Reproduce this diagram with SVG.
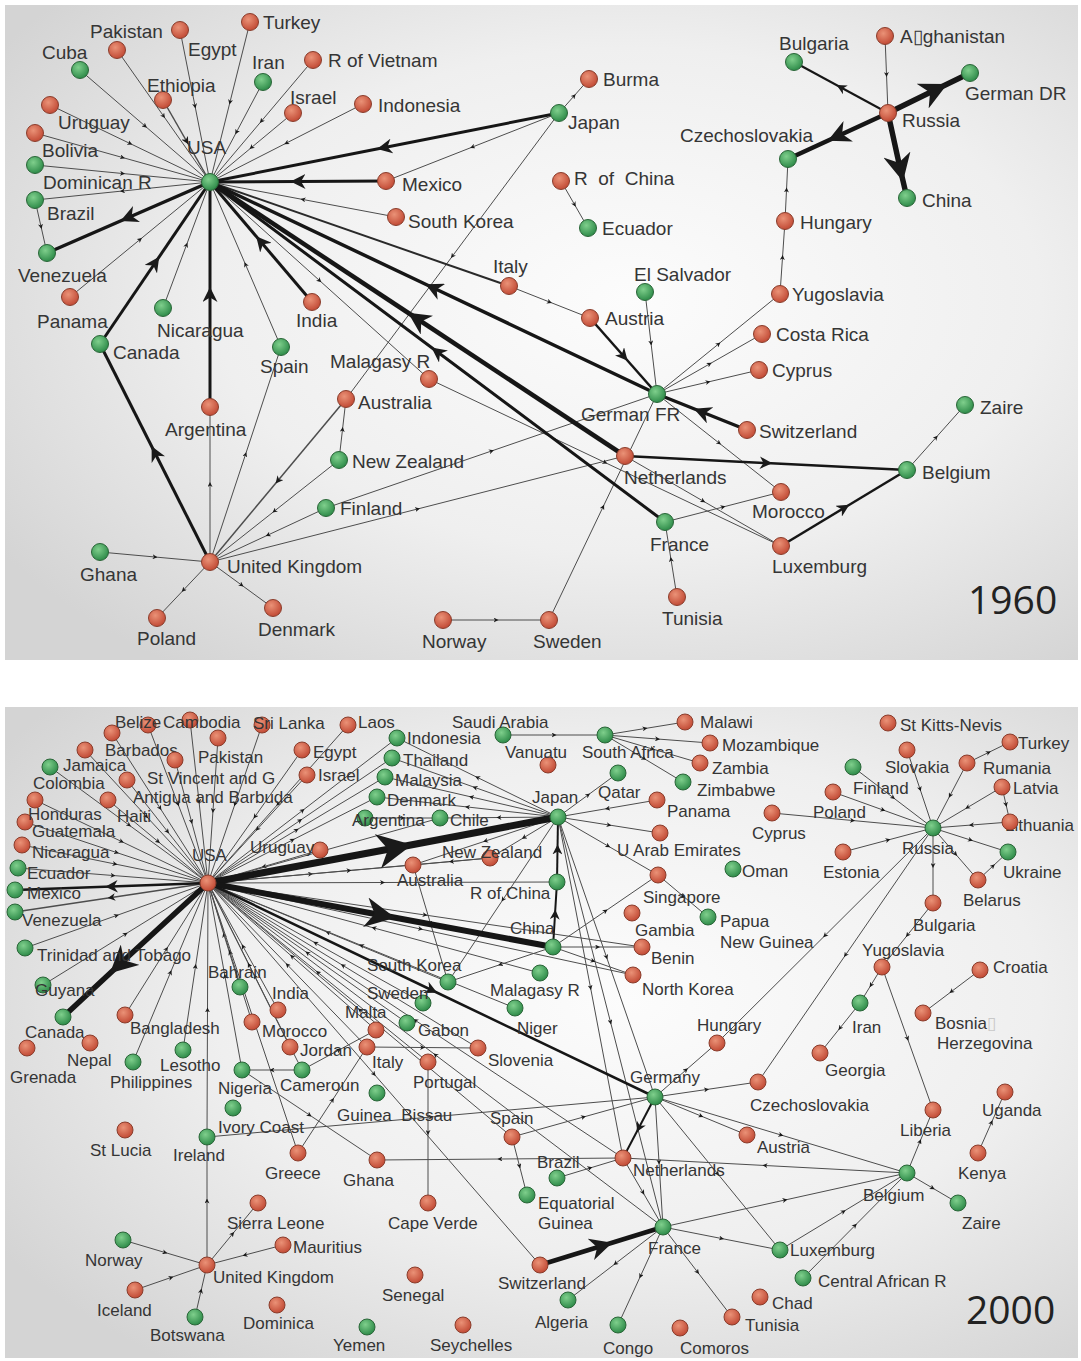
<svg xmlns="http://www.w3.org/2000/svg" width="1081" height="1361" viewBox="0 0 1081 1361">
<defs>
<radialGradient id="bg" cx="0.58" cy="0.45" r="0.7">
<stop offset="0" stop-color="#fcfcfc"/><stop offset="0.55" stop-color="#efefef"/><stop offset="1" stop-color="#d4d4d4"/>
</radialGradient>
<radialGradient id="gr" cx="0.4" cy="0.35" r="0.65">
<stop offset="0" stop-color="#ea9277"/><stop offset="1" stop-color="#c24b36"/>
</radialGradient>
<radialGradient id="gg" cx="0.4" cy="0.35" r="0.65">
<stop offset="0" stop-color="#7fcf8c"/><stop offset="1" stop-color="#2f8c4a"/>
</radialGradient>
<marker id="m" viewBox="0 0 10 10" refX="5" refY="5" markerWidth="5" markerHeight="5" orient="auto">
<path d="M0,0 L10,5 L0,10 L3,5 z" fill="#1a1a1a"/>
</marker>
<style>
.e{fill:none;stroke:#4d4d4d;stroke-width:1;marker-mid:url(#m)}
.k{fill:none;stroke:#161616;marker-mid:url(#m)}
.p{fill:none;stroke:#2a2a2a}
.w15{stroke-width:1.5}.w2{stroke-width:2}.w25{stroke-width:2.5}.w3{stroke-width:3}.w35{stroke-width:3.5}.w45{stroke-width:4.5}.w55{stroke-width:5.5}.w6{stroke-width:6}.w7{stroke-width:7}
.r{fill:url(#gr);stroke:#8a3d2c;stroke-width:1}
.g{fill:url(#gg);stroke:#2a6638;stroke-width:1}
.t{font-family:"Liberation Sans",Arial,sans-serif;font-size:19px;fill:#353535}
.b{font-family:"Liberation Sans",Arial,sans-serif;font-size:17px;fill:#353535}
.y{font-family:"Open Sans","Liberation Sans",sans-serif;font-size:39px;fill:#222}
</style>
</defs>
<rect x="0" y="0" width="1081" height="1361" fill="#ffffff"/>
<rect x="5" y="5" width="1073" height="655" fill="url(#bg)"/>
<rect x="5" y="707" width="1073" height="651" fill="url(#bg)"/>

<g id="connectors-1960">
<path class="e" d="M180 30L195 106L210 182"/>
<path class="e" d="M250 22L230 102L210 182"/>
<path class="e" d="M117 50L163.5 116L210 182"/>
<path class="e" d="M80 70L145 126L210 182"/>
<path class="e" d="M263 82L236.5 132L210 182"/>
<path class="e" d="M313 60L261.5 121L210 182"/>
<path class="e w15" d="M163 100L186.5 141L210 182"/>
<path class="e" d="M293 113L251.5 147.5L210 182"/>
<path class="e" d="M363 104L286.5 143L210 182"/>
<path class="e" d="M50 105L130 143.5L210 182"/>
<path class="e" d="M35 133L122.5 157.5L210 182"/>
<path class="e" d="M35 165L122.5 173.5L210 182"/>
<path class="e" d="M210 182L122.5 191L35 200"/>
<path class="e" d="M35 200L41 226.5L47 253"/>
<path class="e" d="M70 297L140 239.5L210 182"/>
<path class="e" d="M163 308L186.5 245L210 182"/>
<path class="e" d="M281 347L245.5 264.5L210 182"/>
<path class="e" d="M396 217L303 199.5L210 182"/>
<path class="e" d="M559 113L472.5 147L386 181"/>
<path class="e" d="M559 113L574 96L589 79"/>
<path class="e" d="M561 181L574.5 204.5L588 228"/>
<path class="e" d="M559 113L452.5 256L346 399"/>
<path class="e w15" d="M346 399L278 480.5L210 562"/>
<path class="e" d="M339 460L342.5 429.5L346 399"/>
<path class="e" d="M210 562L245.5 454.5L281 347"/>
<path class="e" d="M339 460L274.5 511L210 562"/>
<path class="e" d="M326 508L268 535L210 562"/>
<path class="e" d="M210 562L417.5 509L625 456"/>
<path class="e" d="M326 508L491.5 451L657 394"/>
<path class="e" d="M100 552L155 557L210 562"/>
<path class="e" d="M210 562L183.5 590L157 618"/>
<path class="e" d="M210 562L241.5 585L273 608"/>
<path class="e" d="M443 620L496 620L549 620"/>
<path class="e" d="M549 620L603 507L657 394"/>
<path class="e" d="M677 597L671 559.5L665 522"/>
<path class="e" d="M665 522L723 507L781 492"/>
<path class="e" d="M657 394L719 443L781 492"/>
<path class="e" d="M625 456L703 501L781 546"/>
<path class="e" d="M429 379L605 462.5L781 546"/>
<path class="e" d="M210 182L319.5 280.5L429 379"/>
<path class="e" d="M907 470L936 437.5L965 405"/>
<path class="e" d="M657 394L718.5 344L780 294"/>
<path class="e" d="M657 394L709.5 364L762 334"/>
<path class="e" d="M657 394L708 382L759 370"/>
<path class="e" d="M645 292L651 343L657 394"/>
<path class="e" d="M509 286L549.5 302L590 318"/>
<path class="e" d="M780 294L782.5 257.5L785 221"/>
<path class="e" d="M785 221L786.5 190L788 159"/>
<path class="e" d="M885 36L886.5 74.5L888 113"/>
<path class="e" d="M210 562L210 484.5L210 407"/>
<path class="p w2" d="M210 182L509 286"/>
<path class="k w3" d="M559 113L384.5 147.5L210 182"/>
<path class="k w3" d="M386 181L298 181.5L210 182"/>
<path class="k w35" d="M210 182L128.5 217.5L47 253"/>
<path class="k w3" d="M100 344L155 263L210 182"/>
<path class="k w3" d="M210 562L155 453L100 344"/>
<path class="k w3" d="M210 407L210 294.5L210 182"/>
<path class="k w3" d="M312 302L261 242L210 182"/>
<path class="k w35" d="M657 394L433.5 288L210 182"/>
<path class="k w45" d="M625 456L417.5 319L210 182"/>
<path class="k w3" d="M665 522L437.5 352L210 182"/>
<path class="k w35" d="M747 430L702 412L657 394"/>
<path class="k w25" d="M590 318L623.5 356L657 394"/>
<path class="k w25" d="M625 456L766 463L907 470"/>
<path class="k w25" d="M781 546L844 508L907 470"/>
<path class="k w55" d="M888 113L935 90L970 73"/>
<path class="k w45" d="M888 113L838 136L788 159"/>
<path class="k w55" d="M888 113L900 168L907 198"/>
<path class="k w2" d="M888 113L841 87.5L794 62"/>
</g>

<g id="t-usa"><circle class="g" cx="210" cy="182" r="8.5"/><text class="t" x="187" y="154">USA</text></g>
<g id="t-pakistan"><circle class="r" cx="180" cy="30" r="8.5"/><text class="t" x="90" y="38">Pakistan</text></g>
<g id="t-turkey"><circle class="r" cx="250" cy="22" r="8.5"/><text class="t" x="263" y="29">Turkey</text></g>
<g id="t-egypt"><circle class="r" cx="117" cy="50" r="8.5"/><text class="t" x="188" y="56">Egypt</text></g>
<g id="t-cuba"><circle class="g" cx="80" cy="70" r="8.5"/><text class="t" x="42" y="59">Cuba</text></g>
<g id="t-iran"><circle class="g" cx="263" cy="82" r="8.5"/><text class="t" x="252" y="69">Iran</text></g>
<g id="t-vietnam"><circle class="r" cx="313" cy="60" r="8.5"/><text class="t" x="328" y="67">R of Vietnam</text></g>
<g id="t-ethiopia"><circle class="r" cx="163" cy="100" r="8.5"/><text class="t" x="147" y="92">Ethiopia</text></g>
<g id="t-israel"><circle class="r" cx="293" cy="113" r="8.5"/><text class="t" x="290" y="104">Israel</text></g>
<g id="t-indonesia"><circle class="r" cx="363" cy="104" r="8.5"/><text class="t" x="378" y="112">Indonesia</text></g>
<g id="t-uruguay"><circle class="r" cx="50" cy="105" r="8.5"/><text class="t" x="58" y="129">Uruguay</text></g>
<g id="t-bolivia"><circle class="r" cx="35" cy="133" r="8.5"/><text class="t" x="42" y="157">Bolivia</text></g>
<g id="t-dominican"><circle class="g" cx="35" cy="165" r="8.5"/><text class="t" x="43" y="189">Dominican R</text></g>
<g id="t-brazil"><circle class="g" cx="35" cy="200" r="8.5"/><text class="t" x="47" y="220">Brazil</text></g>
<g id="t-venezuela"><circle class="g" cx="47" cy="253" r="8.5"/><text class="t" x="18" y="282">Venezuela</text></g>
<g id="t-panama"><circle class="r" cx="70" cy="297" r="8.5"/><text class="t" x="37" y="328">Panama</text></g>
<g id="t-nicaragua"><circle class="g" cx="163" cy="308" r="8.5"/><text class="t" x="157" y="337">Nicaragua</text></g>
<g id="t-india"><circle class="r" cx="312" cy="302" r="8.5"/><text class="t" x="296" y="327">India</text></g>
<g id="t-canada"><circle class="g" cx="100" cy="344" r="8.5"/><text class="t" x="113" y="359">Canada</text></g>
<g id="t-spain"><circle class="g" cx="281" cy="347" r="8.5"/><text class="t" x="260" y="373">Spain</text></g>
<g id="t-argentina"><circle class="r" cx="210" cy="407" r="8.5"/><text class="t" x="165" y="436">Argentina</text></g>
<g id="t-malagasy"><circle class="r" cx="429" cy="379" r="8.5"/><text class="t" x="330" y="368">Malagasy R</text></g>
<g id="t-australia"><circle class="r" cx="346" cy="399" r="8.5"/><text class="t" x="358" y="409">Australia</text></g>
<g id="t-newzealand"><circle class="g" cx="339" cy="460" r="8.5"/><text class="t" x="352" y="468">New Zealand</text></g>
<g id="t-finland"><circle class="g" cx="326" cy="508" r="8.5"/><text class="t" x="340" y="515">Finland</text></g>
<g id="t-uk"><circle class="r" cx="210" cy="562" r="8.5"/><text class="t" x="227" y="573">United Kingdom</text></g>
<g id="t-ghana"><circle class="g" cx="100" cy="552" r="8.5"/><text class="t" x="80" y="581">Ghana</text></g>
<g id="t-poland"><circle class="r" cx="157" cy="618" r="8.5"/><text class="t" x="137" y="645">Poland</text></g>
<g id="t-denmark"><circle class="r" cx="273" cy="608" r="8.5"/><text class="t" x="258" y="636">Denmark</text></g>
<g id="t-norway"><circle class="r" cx="443" cy="620" r="8.5"/><text class="t" x="422" y="648">Norway</text></g>
<g id="t-sweden"><circle class="r" cx="549" cy="620" r="8.5"/><text class="t" x="533" y="648">Sweden</text></g>
<g id="t-tunisia"><circle class="r" cx="677" cy="597" r="8.5"/><text class="t" x="662" y="625">Tunisia</text></g>
<g id="t-france"><circle class="g" cx="665" cy="522" r="8.5"/><text class="t" x="650" y="551">France</text></g>
<g id="t-luxemburg"><circle class="r" cx="781" cy="546" r="8.5"/><text class="t" x="772" y="573">Luxemburg</text></g>
<g id="t-morocco"><circle class="r" cx="781" cy="492" r="8.5"/><text class="t" x="752" y="518">Morocco</text></g>
<g id="t-belgium"><circle class="g" cx="907" cy="470" r="8.5"/><text class="t" x="922" y="479">Belgium</text></g>
<g id="t-zaire"><circle class="g" cx="965" cy="405" r="8.5"/><text class="t" x="980" y="414">Zaire</text></g>
<g id="t-netherlands"><circle class="r" cx="625" cy="456" r="8.5"/><text class="t" x="624" y="484">Netherlands</text></g>
<g id="t-switzerland"><circle class="r" cx="747" cy="430" r="8.5"/><text class="t" x="759" y="438">Switzerland</text></g>
<g id="t-germanfr"><circle class="g" cx="657" cy="394" r="8.5"/><text class="t" x="581" y="421">German FR</text></g>
<g id="t-cyprus"><circle class="r" cx="759" cy="370" r="8.5"/><text class="t" x="772" y="377">Cyprus</text></g>
<g id="t-costarica"><circle class="r" cx="762" cy="334" r="8.5"/><text class="t" x="776" y="341">Costa Rica</text></g>
<g id="t-yugoslavia"><circle class="r" cx="780" cy="294" r="8.5"/><text class="t" x="792" y="301">Yugoslavia</text></g>
<g id="t-elsalvador"><circle class="g" cx="645" cy="292" r="8.5"/><text class="t" x="634" y="281">El Salvador</text></g>
<g id="t-austria"><circle class="r" cx="590" cy="318" r="8.5"/><text class="t" x="605" y="325">Austria</text></g>
<g id="t-italy"><circle class="r" cx="509" cy="286" r="8.5"/><text class="t" x="493" y="273">Italy</text></g>
<g id="t-hungary"><circle class="r" cx="785" cy="221" r="8.5"/><text class="t" x="800" y="229">Hungary</text></g>
<g id="t-czech"><circle class="g" cx="788" cy="159" r="8.5"/><text class="t" x="680" y="142">Czechoslovakia</text></g>
<g id="t-bulgaria"><circle class="g" cx="794" cy="62" r="8.5"/><text class="t" x="779" y="50">Bulgaria</text></g>
<g id="t-afghanistan"><circle class="r" cx="885" cy="36" r="8.5"/><text class="t" x="900" y="43">A▯ghanistan</text></g>
<g id="t-russia"><circle class="r" cx="888" cy="113" r="8.5"/><text class="t" x="902" y="127">Russia</text></g>
<g id="t-germandr"><circle class="g" cx="970" cy="73" r="8.5"/><text class="t" x="965" y="100">German DR</text></g>
<g id="t-china"><circle class="g" cx="907" cy="198" r="8.5"/><text class="t" x="922" y="207">China</text></g>
<g id="t-rchina"><circle class="r" cx="561" cy="181" r="8.5"/><text class="t" x="574" y="185" xml:space="preserve">R  of  China</text></g>
<g id="t-ecuador"><circle class="g" cx="588" cy="228" r="8.5"/><text class="t" x="602" y="235">Ecuador</text></g>
<g id="t-burma"><circle class="r" cx="589" cy="79" r="8.5"/><text class="t" x="603" y="86">Burma</text></g>
<g id="t-japan"><circle class="g" cx="559" cy="113" r="8.5"/><text class="t" x="568" y="129">Japan</text></g>
<g id="t-mexico"><circle class="r" cx="386" cy="181" r="8.5"/><text class="t" x="402" y="191">Mexico</text></g>
<g id="t-southkorea"><circle class="r" cx="396" cy="217" r="8.5"/><text class="t" x="408" y="228">South Korea</text></g>
<text class="y" x="968" y="614">1960</text>

<g id="connectors-2000">
<path class="e" d="M148 725L178 804L208 883"/>
<path class="e" d="M190 720L199 801.5L208 883"/>
<path class="e" d="M262 725L235 804L208 883"/>
<path class="e" d="M348 725L278 804L208 883"/>
<path class="e" d="M112 733L160 808L208 883"/>
<path class="e" d="M85 750L146.5 816.5L208 883"/>
<path class="e" d="M175 760L191.5 821.5L208 883"/>
<path class="e" d="M218 738L213 810.5L208 883"/>
<path class="e" d="M302 750L255 816.5L208 883"/>
<path class="e" d="M307 775L257.5 829L208 883"/>
<path class="e" d="M50 767L129 825L208 883"/>
<path class="e" d="M127 780L167.5 831.5L208 883"/>
<path class="e" d="M35 800L121.5 841.5L208 883"/>
<path class="e" d="M108 800L158 841.5L208 883"/>
<path class="e" d="M25 822L116.5 852.5L208 883"/>
<path class="e" d="M22 845L115 864L208 883"/>
<path class="e" d="M18 868L113 875.5L208 883"/>
<path class="e w15" d="M208 883L111.5 897.5L15 912"/>
<path class="e" d="M25 948L116.5 915.5L208 883"/>
<path class="e" d="M43 985L125.5 934L208 883"/>
<path class="e" d="M320 850L264 866.5L208 883"/>
<path class="e" d="M240 987L224 935L208 883"/>
<path class="e" d="M278 1010L243 946.5L208 883"/>
<path class="e" d="M125 1015L166.5 949L208 883"/>
<path class="e" d="M252 1022L230 952.5L208 883"/>
<path class="e" d="M133 1062L170.5 972.5L208 883"/>
<path class="e" d="M183 1050L195.5 966.5L208 883"/>
<path class="e" d="M242 1070L225 976.5L208 883"/>
<path class="e" d="M302 1070L255 976.5L208 883"/>
<path class="e" d="M290 1047L249 965L208 883"/>
<path class="e" d="M298 1153L253 1018L208 883"/>
<path class="e" d="M376 1030L292 956.5L208 883"/>
<path class="e" d="M367 1047L287.5 965L208 883"/>
<path class="e" d="M407 1023L307.5 953L208 883"/>
<path class="e" d="M423 1003L315.5 943L208 883"/>
<path class="e" d="M448 982L328 932.5L208 883"/>
<path class="e" d="M540 973L374 928L208 883"/>
<path class="e" d="M515 1008L361.5 945.5L208 883"/>
<path class="e" d="M478 1048L343 965.5L208 883"/>
<path class="e" d="M428 1062L318 972.5L208 883"/>
<path class="e" d="M512 1137L360 1010L208 883"/>
<path class="e" d="M623 1158L415.5 1020.5L208 883"/>
<path class="e" d="M663 1227L435.5 1055L208 883"/>
<path class="e" d="M208 883L374 1074L540 1265"/>
<path class="e" d="M208 883L310.5 874L413 865"/>
<path class="e" d="M208 883L349 870.5L490 858"/>
<path class="e" d="M208 883L382.5 882.5L557 882"/>
<path class="e" d="M208 883L324 850.5L440 818"/>
<path class="e" d="M208 883L292.5 840L377 797"/>
<path class="e" d="M208 883L296.5 830L385 777"/>
<path class="e" d="M208 883L300 820.5L392 758"/>
<path class="e" d="M208 883L302.5 810.5L397 738"/>
<path class="e" d="M208 883L420.5 929L633 975"/>
<path class="e" d="M208 883L425 915L642 947"/>
<path class="e" d="M207 1137L207.5 1010L208 883"/>
<path class="e" d="M207 1265L207 1201L207 1137"/>
<path class="e" d="M558 817L477.5 777.5L397 738"/>
<path class="e" d="M558 817L475 787.5L392 758"/>
<path class="e" d="M558 817L471.5 797L385 777"/>
<path class="e" d="M558 817L467.5 807L377 797"/>
<path class="e" d="M558 817L499 817.5L440 818"/>
<path class="e" d="M365 818L402.5 818L440 818"/>
<path class="e" d="M558 817L524 837.5L490 858"/>
<path class="e" d="M558 817L485.5 841L413 865"/>
<path class="e" d="M558 817L588 795L618 773"/>
<path class="e" d="M657 800L607.5 808.5L558 817"/>
<path class="e" d="M558 817L609 825L660 833"/>
<path class="e" d="M558 817L608 846L658 875"/>
<path class="e" d="M658 875L683 896L708 917"/>
<path class="e" d="M558 817L503 899.5L448 982"/>
<path class="e" d="M558 817L606.5 957L655 1097"/>
<path class="e" d="M558 817L590.5 987.5L623 1158"/>
<path class="e" d="M558 817L610.5 1022L663 1227"/>
<path class="e" d="M503 735L554 735L605 735"/>
<path class="e" d="M605 735L645 728.5L685 722"/>
<path class="e" d="M605 735L657.5 739L710 743"/>
<path class="e" d="M605 735L652.5 749L700 763"/>
<path class="e" d="M605 735L644 758.5L683 782"/>
<path class="e" d="M413 865L430.5 923.5L448 982"/>
<path class="e" d="M490 858L451.5 861.5L413 865"/>
<path class="e" d="M553 947L500.5 964.5L448 982"/>
<path class="e" d="M553 947L605.5 911L658 875"/>
<path class="e" d="M553 947L597.5 947L642 947"/>
<path class="e" d="M553 947L593 961L633 975"/>
<path class="e" d="M655 1097L706.5 1089.5L758 1082"/>
<path class="e" d="M655 1097L701 1116L747 1135"/>
<path class="e" d="M655 1097L686 1070L717 1043"/>
<path class="e" d="M512 1137L583.5 1117L655 1097"/>
<path class="e" d="M207 1137L431 1117L655 1097"/>
<path class="e" d="M655 1097L717.5 1173.5L780 1250"/>
<path class="e" d="M655 1097L781 1135L907 1173"/>
<path class="e" d="M655 1097L659 1162L663 1227"/>
<path class="e" d="M623 1158L500 1159L377 1160"/>
<path class="e" d="M907 1173L765 1165.5L623 1158"/>
<path class="e" d="M557 1178L590 1168L623 1158"/>
<path class="e" d="M623 1158L643 1192.5L663 1227"/>
<path class="e" d="M663 1227L615.5 1263.5L568 1300"/>
<path class="e" d="M663 1227L640.5 1276L618 1325"/>
<path class="e" d="M663 1227L697.5 1272L732 1317"/>
<path class="e" d="M663 1227L785 1200L907 1173"/>
<path class="e" d="M663 1227L721.5 1238.5L780 1250"/>
<path class="e" d="M512 1137L519.5 1166L527 1195"/>
<path class="e" d="M428 1062L428 1132.5L428 1203"/>
<path class="e" d="M302 1070L272 1070L242 1070"/>
<path class="e" d="M242 1070L309.5 1115L377 1160"/>
<path class="e" d="M298 1153L332.5 1100L367 1047"/>
<path class="e" d="M302 1070L339 1050L376 1030"/>
<path class="e" d="M367 1047L422.5 1047.5L478 1048"/>
<path class="e" d="M207 1265L232.5 1234L258 1203"/>
<path class="e" d="M283 1245L245 1255L207 1265"/>
<path class="e" d="M123 1240L165 1252.5L207 1265"/>
<path class="e" d="M135 1290L171 1277.5L207 1265"/>
<path class="e" d="M195 1317L201 1291L207 1265"/>
<path class="e" d="M907 750L920 789L933 828"/>
<path class="e" d="M853 767L893 797.5L933 828"/>
<path class="e" d="M833 792L883 810L933 828"/>
<path class="e" d="M772 813L852.5 820.5L933 828"/>
<path class="e" d="M843 852L888 840L933 828"/>
<path class="e" d="M967 763L950 795.5L933 828"/>
<path class="e" d="M967 763L988.5 752.5L1010 742"/>
<path class="e" d="M1002 787L967.5 807.5L933 828"/>
<path class="e" d="M1002 787L1006 804.5L1010 822"/>
<path class="e" d="M1010 822L971.5 825L933 828"/>
<path class="e" d="M933 828L970.5 840L1008 852"/>
<path class="e" d="M933 828L955.5 854L978 880"/>
<path class="e" d="M978 880L993 866L1008 852"/>
<path class="e" d="M933 828L933 865.5L933 903"/>
<path class="e" d="M933 903L907.5 935L882 967"/>
<path class="e" d="M882 967L871 985L860 1003"/>
<path class="e" d="M860 1003L840 1028L820 1053"/>
<path class="e" d="M882 967L907.5 1038.5L933 1110"/>
<path class="e" d="M907 1173L920 1141.5L933 1110"/>
<path class="e" d="M980 970L951.5 991.5L923 1013"/>
<path class="e" d="M978 1153L991.5 1122.5L1005 1092"/>
<path class="e" d="M907 1173L932.5 1188L958 1203"/>
<path class="e" d="M780 1250L843.5 1211.5L907 1173"/>
<path class="e" d="M803 1278L855 1225.5L907 1173"/>
<path class="e" d="M933 828L825 935.5L717 1043"/>
<path class="e" d="M933 828L845.5 955L758 1082"/>
<path class="k w7" d="M208 883L395 848L558 817"/>
<path class="k w6" d="M208 883L380.5 915L553 947"/>
<path class="k w55" d="M208 883L120 964L63 1017"/>
<path class="k w25" d="M208 883L111.5 886.5L15 890"/>
<path class="k w25" d="M208 883L431.5 990L655 1097"/>
<path class="k w45" d="M540 1265L601.5 1246L663 1227"/>
<path class="k w2" d="M655 1097L639 1127.5L623 1158"/>
<path class="k w2" d="M553 947L555 914.5L557 882"/>
<path class="k w2" d="M557 882L557.5 849.5L558 817"/>
</g>

<g id="b-usa"><circle class="r" cx="208" cy="883" r="8"/><text class="b" x="192" y="861">USA</text></g>
<g id="b-belize"><circle class="r" cx="148" cy="725" r="8"/><text class="b" x="115" y="728">Belize</text></g>
<g id="b-cambodia"><circle class="r" cx="190" cy="720" r="8"/><text class="b" x="163" y="728">Cambodia</text></g>
<g id="b-srilanka"><circle class="r" cx="262" cy="725" r="8"/><text class="b" x="253" y="729">Sri Lanka</text></g>
<g id="b-laos"><circle class="r" cx="348" cy="725" r="8"/><text class="b" x="358" y="728">Laos</text></g>
<g id="b-barbados"><circle class="r" cx="112" cy="733" r="8"/><text class="b" x="105" y="756">Barbados</text></g>
<g id="b-n85"><circle class="r" cx="85" cy="750" r="8"/></g>
<g id="b-n175"><circle class="r" cx="175" cy="760" r="8"/></g>
<g id="b-pakistan"><circle class="r" cx="218" cy="738" r="8"/><text class="b" x="198" y="763">Pakistan</text></g>
<g id="b-egypt"><circle class="r" cx="302" cy="750" r="8"/><text class="b" x="313" y="758">Egypt</text></g>
<g id="b-israel"><circle class="r" cx="307" cy="775" r="8"/><text class="b" x="318" y="781">Israel</text></g>
<g id="b-jamaica"><circle class="g" cx="50" cy="767" r="8"/><text class="b" x="63" y="771">Jamaica</text></g>
<g id="b-stvincent"><circle class="r" cx="127" cy="780" r="8"/><text class="b" x="147" y="784">St Vincent and G</text></g>
<g id="b-colombia"><circle class="r" cx="35" cy="800" r="8"/><text class="b" x="33" y="789">Colombia</text></g>
<g id="b-antigua"><circle class="r" cx="108" cy="800" r="8"/><text class="b" x="133" y="803">Antigua and Barbuda</text></g>
<g id="b-honduras"><circle class="r" cx="25" cy="822" r="8"/><text class="b" x="28" y="820">Honduras</text></g>
<g id="b-haiti"><text class="b" x="117" y="822">Haiti</text></g>
<g id="b-guatemala"><circle class="r" cx="22" cy="845" r="8"/><text class="b" x="32" y="837">Guatemala</text></g>
<g id="b-nicaragua"><text class="b" x="32" y="858">Nicaragua</text></g>
<g id="b-ecuador"><circle class="g" cx="18" cy="868" r="8"/><text class="b" x="27" y="879">Ecuador</text></g>
<g id="b-mexico"><circle class="g" cx="15" cy="890" r="8"/><text class="b" x="27" y="899">Mexico</text></g>
<g id="b-venezuela"><circle class="g" cx="15" cy="912" r="8"/><text class="b" x="22" y="926">Venezuela</text></g>
<g id="b-trinidad"><circle class="g" cx="25" cy="948" r="8"/><text class="b" x="37" y="961">Trinidad and Tobago</text></g>
<g id="b-guyana"><circle class="g" cx="43" cy="985" r="8"/><text class="b" x="35" y="996">Guyana</text></g>
<g id="b-canada"><circle class="g" cx="63" cy="1017" r="8"/><text class="b" x="25" y="1038">Canada</text></g>
<g id="b-uruguay"><circle class="r" cx="320" cy="850" r="8"/><text class="b" x="250" y="853">Uruguay</text></g>
<g id="b-bahrain"><circle class="g" cx="240" cy="987" r="8"/><text class="b" x="208" y="978">Bahrain</text></g>
<g id="b-india"><circle class="r" cx="278" cy="1010" r="8"/><text class="b" x="272" y="999">India</text></g>
<g id="b-bangladesh"><circle class="r" cx="125" cy="1015" r="8"/><text class="b" x="130" y="1034">Bangladesh</text></g>
<g id="b-morocco"><circle class="r" cx="252" cy="1022" r="8"/><text class="b" x="262" y="1037">Morocco</text></g>
<g id="b-indonesia"><circle class="g" cx="397" cy="738" r="8"/><text class="b" x="407" y="744">Indonesia</text></g>
<g id="b-saudi"><circle class="g" cx="503" cy="735" r="8"/><text class="b" x="452" y="728">Saudi Arabia</text></g>
<g id="b-southafrica"><circle class="g" cx="605" cy="735" r="8"/><text class="b" x="582" y="758">South Africa</text></g>
<g id="b-vanuatu"><circle class="r" cx="548" cy="765" r="8"/><text class="b" x="505" y="758">Vanuatu</text></g>
<g id="b-thailand"><circle class="g" cx="392" cy="758" r="8"/><text class="b" x="403" y="766">Thailand</text></g>
<g id="b-malaysia"><circle class="g" cx="385" cy="777" r="8"/><text class="b" x="395" y="786">Malaysia</text></g>
<g id="b-denmark"><circle class="g" cx="377" cy="797" r="8"/><text class="b" x="387" y="806">Denmark</text></g>
<g id="b-argentina"><circle class="g" cx="365" cy="818" r="8"/><text class="b" x="352" y="826">Argentina</text></g>
<g id="b-chile"><circle class="g" cx="440" cy="818" r="8"/><text class="b" x="450" y="826">Chile</text></g>
<g id="b-japan"><circle class="g" cx="558" cy="817" r="8"/><text class="b" x="532" y="803">Japan</text></g>
<g id="b-qatar"><circle class="g" cx="618" cy="773" r="8"/><text class="b" x="598" y="798">Qatar</text></g>
<g id="b-panama"><circle class="r" cx="657" cy="800" r="8"/><text class="b" x="667" y="817">Panama</text></g>
<g id="b-malawi"><circle class="r" cx="685" cy="722" r="8"/><text class="b" x="700" y="728">Malawi</text></g>
<g id="b-mozambique"><circle class="r" cx="710" cy="743" r="8"/><text class="b" x="722" y="751">Mozambique</text></g>
<g id="b-zambia"><circle class="r" cx="700" cy="763" r="8"/><text class="b" x="712" y="774">Zambia</text></g>
<g id="b-zimbabwe"><circle class="g" cx="683" cy="782" r="8"/><text class="b" x="697" y="796">Zimbabwe</text></g>
<g id="b-uae"><circle class="r" cx="660" cy="833" r="8"/><text class="b" x="617" y="856">U Arab Emirates</text></g>
<g id="b-oman"><circle class="g" cx="733" cy="869" r="8"/><text class="b" x="742" y="877">Oman</text></g>
<g id="b-australia"><circle class="r" cx="413" cy="865" r="8"/><text class="b" x="397" y="886">Australia</text></g>
<g id="b-newzealand"><circle class="r" cx="490" cy="858" r="8"/><text class="b" x="442" y="858">New Zealand</text></g>
<g id="b-rchina"><circle class="g" cx="557" cy="882" r="8"/><text class="b" x="470" y="899">R of China</text></g>
<g id="b-singapore"><circle class="r" cx="658" cy="875" r="8"/><text class="b" x="643" y="903">Singapore</text></g>
<g id="b-papua"><circle class="g" cx="708" cy="917" r="8"/><text class="b" x="720" y="927">Papua</text><text class="b" x="720" y="948">New Guinea</text></g>
<g id="b-gambia"><circle class="r" cx="632" cy="913" r="8"/><text class="b" x="635" y="936">Gambia</text></g>
<g id="b-china"><circle class="g" cx="553" cy="947" r="8"/><text class="b" x="510" y="934">China</text></g>
<g id="b-benin"><circle class="r" cx="642" cy="947" r="8"/><text class="b" x="651" y="964">Benin</text></g>
<g id="b-northkorea"><circle class="r" cx="633" cy="975" r="8"/><text class="b" x="642" y="995">North Korea</text></g>
<g id="b-southkorea"><circle class="g" cx="448" cy="982" r="8"/><text class="b" x="367" y="971">South Korea</text></g>
<g id="b-malagasy"><circle class="g" cx="540" cy="973" r="8"/><text class="b" x="490" y="996">Malagasy R</text></g>
<g id="b-sweden"><circle class="g" cx="423" cy="1003" r="8"/><text class="b" x="367" y="999">Sweden</text></g>
<g id="b-niger"><circle class="g" cx="515" cy="1008" r="8"/><text class="b" x="517" y="1034">Niger</text></g>
<g id="b-gabon"><circle class="g" cx="407" cy="1023" r="8"/><text class="b" x="418" y="1036">Gabon</text></g>
<g id="b-malta"><circle class="r" cx="376" cy="1030" r="8"/><text class="b" x="345" y="1018">Malta</text></g>
<g id="b-italy"><circle class="r" cx="367" cy="1047" r="8"/><text class="b" x="372" y="1068">Italy</text></g>
<g id="b-stkitts"><circle class="r" cx="888" cy="723" r="8"/><text class="b" x="900" y="731">St Kitts-Nevis</text></g>
<g id="b-turkey"><circle class="r" cx="1010" cy="742" r="8"/><text class="b" x="1018" y="749">Turkey</text></g>
<g id="b-slovakia"><circle class="r" cx="907" cy="750" r="8"/><text class="b" x="885" y="773">Slovakia</text></g>
<g id="b-rumania"><circle class="r" cx="967" cy="763" r="8"/><text class="b" x="983" y="774">Rumania</text></g>
<g id="b-finland"><circle class="g" cx="853" cy="767" r="8"/><text class="b" x="853" y="794">Finland</text></g>
<g id="b-poland"><circle class="r" cx="833" cy="792" r="8"/><text class="b" x="813" y="818">Poland</text></g>
<g id="b-latvia"><circle class="r" cx="1002" cy="787" r="8"/><text class="b" x="1013" y="794">Latvia</text></g>
<g id="b-cyprus"><circle class="r" cx="772" cy="813" r="8"/><text class="b" x="752" y="839">Cyprus</text></g>
<g id="b-lithuania"><text class="b" x="1005" y="831">Lithuania</text><circle class="r" cx="1010" cy="822" r="8"/></g>
<g id="b-russia"><circle class="g" cx="933" cy="828" r="8"/><text class="b" x="902" y="854">Russia</text></g>
<g id="b-estonia"><circle class="r" cx="843" cy="852" r="8"/><text class="b" x="823" y="878">Estonia</text></g>
<g id="b-ukraine"><circle class="g" cx="1008" cy="852" r="8"/><text class="b" x="1003" y="878">Ukraine</text></g>
<g id="b-belarus"><circle class="r" cx="978" cy="880" r="8"/><text class="b" x="963" y="906">Belarus</text></g>
<g id="b-bulgaria"><circle class="r" cx="933" cy="903" r="8"/><text class="b" x="913" y="931">Bulgaria</text></g>
<g id="b-yugoslavia"><circle class="r" cx="882" cy="967" r="8"/><text class="b" x="862" y="956">Yugoslavia</text></g>
<g id="b-croatia"><circle class="r" cx="980" cy="970" r="8"/><text class="b" x="993" y="973">Croatia</text></g>
<g id="b-iran"><circle class="g" cx="860" cy="1003" r="8"/><text class="b" x="852" y="1033">Iran</text></g>
<g id="b-bosnia"><circle class="r" cx="923" cy="1013" r="8"/><text class="b" x="935" y="1029">Bosnia<tspan fill="#c8c8c8">▯</tspan></text><text class="b" x="937" y="1049">Herzegovina</text></g>
<g id="b-hungary"><circle class="r" cx="717" cy="1043" r="8"/><text class="b" x="697" y="1031">Hungary</text></g>
<g id="b-grenada"><circle class="r" cx="27" cy="1048" r="8"/><text class="b" x="10" y="1083">Grenada</text></g>
<g id="b-nepal"><circle class="r" cx="90" cy="1043" r="8"/><text class="b" x="67" y="1066">Nepal</text></g>
<g id="b-philippines"><circle class="g" cx="133" cy="1062" r="8"/><text class="b" x="110" y="1088">Philippines</text></g>
<g id="b-lesotho"><circle class="g" cx="183" cy="1050" r="8"/><text class="b" x="160" y="1071">Lesotho</text></g>
<g id="b-nigeria"><circle class="g" cx="242" cy="1070" r="8"/><text class="b" x="218" y="1094">Nigeria</text></g>
<g id="b-cameroun"><circle class="g" cx="302" cy="1070" r="8"/><text class="b" x="280" y="1091">Cameroun</text></g>
<g id="b-jordan"><circle class="r" cx="290" cy="1047" r="8"/><text class="b" x="300" y="1056">Jordan</text></g>
<g id="b-ivorycoast"><circle class="g" cx="233" cy="1108" r="8"/><text class="b" x="218" y="1133">Ivory Coast</text></g>
<g id="b-ireland"><circle class="g" cx="207" cy="1137" r="8"/><text class="b" x="173" y="1161">Ireland</text></g>
<g id="b-stlucia"><circle class="r" cx="125" cy="1130" r="8"/><text class="b" x="90" y="1156">St Lucia</text></g>
<g id="b-greece"><circle class="r" cx="298" cy="1153" r="8"/><text class="b" x="265" y="1179">Greece</text></g>
<g id="b-sierraleone"><circle class="r" cx="258" cy="1203" r="8"/><text class="b" x="227" y="1229">Sierra Leone</text></g>
<g id="b-mauritius"><circle class="r" cx="283" cy="1245" r="8"/><text class="b" x="293" y="1253">Mauritius</text></g>
<g id="b-norway"><circle class="g" cx="123" cy="1240" r="8"/><text class="b" x="85" y="1266">Norway</text></g>
<g id="b-uk"><circle class="r" cx="207" cy="1265" r="8"/><text class="b" x="213" y="1283">United Kingdom</text></g>
<g id="b-iceland"><circle class="r" cx="135" cy="1290" r="8"/><text class="b" x="97" y="1316">Iceland</text></g>
<g id="b-botswana"><circle class="g" cx="195" cy="1317" r="8"/><text class="b" x="150" y="1341">Botswana</text></g>
<g id="b-dominica"><circle class="r" cx="277" cy="1305" r="8"/><text class="b" x="243" y="1329">Dominica</text></g>
<g id="b-yemen"><circle class="g" cx="367" cy="1327" r="8"/><text class="b" x="333" y="1351">Yemen</text></g>
<g id="b-slovenia"><circle class="r" cx="478" cy="1048" r="8"/><text class="b" x="488" y="1066">Slovenia</text></g>
<g id="b-portugal"><circle class="r" cx="428" cy="1062" r="8"/><text class="b" x="413" y="1088">Portugal</text></g>
<g id="b-guineabissau"><circle class="g" cx="377" cy="1093" r="8"/><text class="b" x="337" y="1121" xml:space="preserve">Guinea  Bissau</text></g>
<g id="b-spain"><circle class="r" cx="512" cy="1137" r="8"/><text class="b" x="490" y="1124">Spain</text></g>
<g id="b-ghana"><circle class="r" cx="377" cy="1160" r="8"/><text class="b" x="343" y="1186">Ghana</text></g>
<g id="b-brazil"><circle class="g" cx="557" cy="1178" r="8"/><text class="b" x="537" y="1168">Brazil</text></g>
<g id="b-netherlands"><circle class="r" cx="623" cy="1158" r="8"/><text class="b" x="633" y="1176">Netherlands</text></g>
<g id="b-eqguinea"><circle class="g" cx="527" cy="1195" r="8"/><text class="b" x="538" y="1209">Equatorial</text><text class="b" x="538" y="1229">Guinea</text></g>
<g id="b-capeverde"><circle class="r" cx="428" cy="1203" r="8"/><text class="b" x="388" y="1229">Cape Verde</text></g>
<g id="b-france"><circle class="g" cx="663" cy="1227" r="8"/><text class="b" x="648" y="1254">France</text></g>
<g id="b-germany"><circle class="g" cx="655" cy="1097" r="8"/><text class="b" x="630" y="1083">Germany</text></g>
<g id="b-switzerland"><circle class="r" cx="540" cy="1265" r="8"/><text class="b" x="498" y="1289">Switzerland</text></g>
<g id="b-senegal"><circle class="r" cx="415" cy="1275" r="8"/><text class="b" x="382" y="1301">Senegal</text></g>
<g id="b-algeria"><circle class="g" cx="568" cy="1300" r="8"/><text class="b" x="535" y="1328">Algeria</text></g>
<g id="b-seychelles"><circle class="r" cx="463" cy="1325" r="8"/><text class="b" x="430" y="1351">Seychelles</text></g>
<g id="b-congo"><circle class="g" cx="618" cy="1325" r="8"/><text class="b" x="603" y="1354">Congo</text></g>
<g id="b-comoros"><circle class="r" cx="680" cy="1328" r="8"/><text class="b" x="680" y="1354">Comoros</text></g>
<g id="b-georgia"><circle class="r" cx="820" cy="1053" r="8"/><text class="b" x="825" y="1076">Georgia</text></g>
<g id="b-czech"><circle class="r" cx="758" cy="1082" r="8"/><text class="b" x="750" y="1111">Czechoslovakia</text></g>
<g id="b-austria"><circle class="r" cx="747" cy="1135" r="8"/><text class="b" x="757" y="1153">Austria</text></g>
<g id="b-liberia"><circle class="r" cx="933" cy="1110" r="8"/><text class="b" x="900" y="1136">Liberia</text></g>
<g id="b-uganda"><circle class="r" cx="1005" cy="1092" r="8"/><text class="b" x="982" y="1116">Uganda</text></g>
<g id="b-kenya"><circle class="r" cx="978" cy="1153" r="8"/><text class="b" x="958" y="1179">Kenya</text></g>
<g id="b-belgium"><circle class="g" cx="907" cy="1173" r="8"/><text class="b" x="863" y="1201">Belgium</text></g>
<g id="b-zaire"><circle class="g" cx="958" cy="1203" r="8"/><text class="b" x="962" y="1229">Zaire</text></g>
<g id="b-luxemburg"><circle class="g" cx="780" cy="1250" r="8"/><text class="b" x="790" y="1256">Luxemburg</text></g>
<g id="b-car"><circle class="g" cx="803" cy="1278" r="8"/><text class="b" x="818" y="1287">Central African R</text></g>
<g id="b-chad"><circle class="r" cx="760" cy="1297" r="8"/><text class="b" x="772" y="1309">Chad</text></g>
<g id="b-tunisia"><circle class="r" cx="732" cy="1317" r="8"/><text class="b" x="745" y="1331">Tunisia</text></g>
<text class="y" x="966" y="1324">2000</text>
</svg>
